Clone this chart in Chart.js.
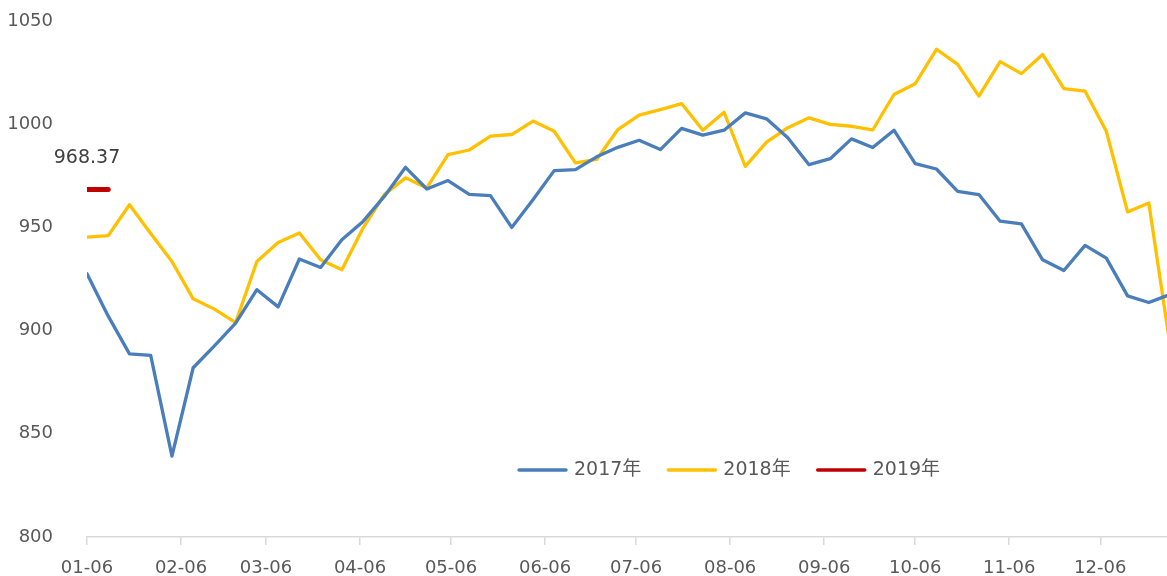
<!DOCTYPE html>
<html>
<head>
<meta charset="utf-8">
<title>2017-2019</title>
<script src="https://cdn.jsdelivr.net/npm/chart.js"></script>
<style>
  body { margin: 0; background: #fff; overflow: hidden; }
</style>
</head>
<body>
<canvas id="chart" width="1167" height="576"></canvas>
<script>
// weekly dates (month-day)
const weekLabels = ['01-06','01-13','01-20','01-27','02-03','02-10','02-17','02-24',
  '03-03','03-10','03-17','03-24','03-31','04-07','04-14','04-21','04-28',
  '05-05','05-12','05-19','05-26','06-02','06-09','06-16','06-23','06-30',
  '07-07','07-14','07-21','07-28','08-04','08-11','08-18','08-25',
  '09-01','09-08','09-15','09-22','09-29','10-06','10-13','10-20','10-27',
  '11-03','11-10','11-17','11-24','12-01','12-08','12-15','12-22','12-29'];

const values2017 = [927.5, 907, 888.7, 888, 839.2, 882, 892.6, 903.6, 919.8, 911.5,
  934.7, 930.6, 944, 952.9, 965, 979.1, 968.6, 972.7, 966, 965.4,
  950, 963.4, 977.5, 978, 984.2, 988.8, 992.2, 987.7, 998, 994.7,
  997.1, 1005.5, 1002.6, 993.4, 980.4, 983.3, 992.9, 988.7, 997.1, 980.9,
  978.3, 967.5, 965.9, 953, 951.7, 934.3, 929.1, 941.3, 935.1, 916.8,
  913.6, 917.5];

const values2018 = [945.3, 946, 961, 947, 933.5, 915.4, 910.4, 903.9, 933.5, 942.7,
  947.3, 934.3, 929.5, 949.7, 965.9, 974, 969.1, 985.3, 987.5, 994.2,
  995, 1001.5, 996.6, 981.3, 982.9, 997.4, 1004.4, 1007.1, 1010, 997.1,
  1005.8, 979.6, 991.3, 998.3, 1003.1, 999.9, 999, 997.2, 1014.4, 1019.6,
  1036.3, 1029, 1013.6, 1030.3, 1024.5, 1033.8, 1017.2, 1016, 996.6, 957.5,
  961.8, 893];

const values2019 = [968.37, 968.37];

const seriesNames = ['2017年', '2018年', '2019年'];
const tickLabels = ['01-06','02-06','03-06','04-06','05-06','06-06',
  '07-06','08-06','09-06','10-06','11-06','12-06'];
const axisEnd = '12-28';

function dayIndex(md) {
  const [m, d] = md.split('-').map(Number);
  return (Date.UTC(2017, m - 1, d) - Date.UTC(2017, 0, 6)) / 86400000;
}
function toPoints(vals) {
  return vals.map((v, i) => ({ x: dayIndex(weekLabels[i]), y: v }));
}

const textColor = '#595959';
const fontFamily = '"DejaVu Sans", "Noto Sans CJK SC", sans-serif';

// value label on first 2019 point
const valueLabel = {
  id: 'valueLabel',
  afterDatasetsDraw(chart) {
    const meta = chart.getDatasetMeta(2);
    const pt = meta.data[0];
    const ctx = chart.ctx;
    ctx.save();
    ctx.font = '19px ' + fontFamily;
    ctx.fillStyle = '#404040';
    ctx.textAlign = 'center';
    ctx.textBaseline = 'middle';
    ctx.fillText(values2019[0].toFixed(2), pt.x, pt.y - 31);
    ctx.restore();
  }
};

// legend placed inside the plot like the original
const innerLegend = {
  id: 'innerLegend',
  afterDraw(chart) {
    const ctx = chart.ctx;
    let x = 517;
    const y = 470;
    ctx.save();
    ctx.font = '19px ' + fontFamily;
    ctx.textBaseline = 'middle';
    chart.data.datasets.forEach(ds => {
      ctx.strokeStyle = ds.borderColor;
      ctx.lineWidth = 3.5;
      ctx.lineCap = 'round';
      ctx.beginPath();
      ctx.moveTo(x + 2, y);
      ctx.lineTo(x + 49, y);
      ctx.stroke();
      x += 57;
      ctx.fillStyle = textColor;
      ctx.fillText(ds.label, x, y);
      x += ctx.measureText(ds.label).width + 25;
    });
    ctx.restore();
  }
};

const ctx = document.getElementById('chart').getContext('2d');
new Chart(ctx, {
  type: 'line',
  data: {
    datasets: [{
      label: seriesNames[0],
      data: toPoints(values2017),
      borderColor: '#4A7EBB',
      borderWidth: 3.3
    }, {
      label: seriesNames[1],
      data: toPoints(values2018),
      borderColor: '#FFC000',
      borderWidth: 3.3
    }, {
      label: seriesNames[2],
      data: toPoints(values2019),
      borderColor: '#C00000',
      borderWidth: 5
    }]
  },
  options: {
    responsive: false,
    animation: false,
    elements: {
      point: { radius: 0 },
      line: { tension: 0, borderCapStyle: 'round', borderJoinStyle: 'round', fill: false }
    },
    layout: { padding: { top: 21, right: 0, bottom: 0, left: 0 } },
    plugins: {
      legend: { display: false },
      tooltip: { enabled: false }
    },
    scales: {
      x: {
        type: 'linear',
        min: 0,
        max: dayIndex(axisEnd),
        afterBuildTicks(scale) {
          scale.ticks = tickLabels.map(l => ({ value: dayIndex(l) }));
        },
        afterFit(scale) { scale.height = 39; },
        grid: {
          drawOnChartArea: false,
          drawTicks: true,
          tickLength: 8,
          color: '#D9D9D9',
          lineWidth: 1.5
        },
        border: { display: true, color: '#D9D9D9', width: 1.5 },
        ticks: {
          autoSkip: false,
          maxRotation: 0,
          padding: 13,
          color: textColor,
          font: { family: fontFamily, size: 18 },
          callback: (v, i) => tickLabels[i]
        }
      },
      y: {
        min: 800,
        max: 1050,
        afterFit(scale) {
          scale.width = 87;
          scale.paddingTop = 10;
          scale.paddingBottom = 10;
        },
        grid: { display: false },
        border: { display: false },
        ticks: {
          stepSize: 50,
          padding: 26,
          color: textColor,
          font: { family: fontFamily, size: 18 },
          callback: v => String(v)
        }
      }
    }
  },
  plugins: [valueLabel, innerLegend]
});
</script>
</body>
</html>
